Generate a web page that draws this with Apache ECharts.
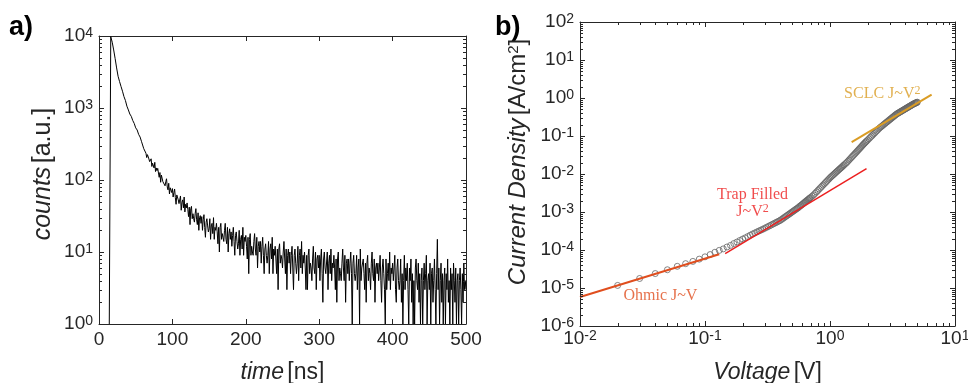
<!DOCTYPE html>
<html><head><meta charset="utf-8">
<script src="https://cdn.jsdelivr.net/npm/echarts@6/dist/echarts.min.js"></script>
<style>html,body{margin:0;padding:0;background:#fff}#c{width:968px;height:383px}</style>
</head><body><div id="c"></div>
<script>
// ---------- Panel a) : fluorescence decay ----------
const decayTime = [
14,16,18,20,22,24,26,28,30,32,
34,36,38,40,42,44,46,48,50,52,
54,56,58,
60,61,62,63,64,65,66,67,68,69,
70,71,72,73,74,75,76,77,78,79,
80,81,82,83,84,85,86,87,88,89,
90,91,92,93,94,95,96,97,98,99,
100,101,102,103,104,105,106,107,108,109,
110,111,112,113,114,115,116,117,118,119,
120,121,122,123,124,125,126,127,128,129,
130,131,132,133,134,135,136,137,138,139,
140,141,142,143,144,145,146,147,148,149,
150,151,152,153,154,155,156,157,158,159,
160,161,162,163,164,165,166,167,168,169,
170,171,172,173,174,175,176,177,178,179,
180,181,182,183,184,185,186,187,188,189,
190,191,192,193,194,195,196,197,198,199,
200,201,202,203,204,205,206,207,208,209,
210,211,212,213,214,215,216,217,218,219,
220,221,222,223,224,225,226,227,228,229,
230,231,232,233,234,235,236,237,238,239,
240,241,242,243,244,245,246,247,248,249,
250,251,252,253,254,255,256,257,258,259,
260,261,262,263,264,265,266,267,268,269,
270,271,272,273,274,275,276,277,278,279,
280,281,282,283,284,285,286,287,288,289,
290,291,292,293,294,295,296,297,298,299,
300,301,302,303,304,305,306,307,308,309,
310,311,312,313,314,315,316,317,318,319,
320,321,322,323,324,325,326,327,328,329,
330,331,332,333,334,335,336,337,338,339,
340,341,342,343,344,345,346,347,348,349,
350,351,352,353,354,355,356,357,358,359,
360,361,362,363,364,365,366,367,368,369,
370,371,372,373,374,375,376,377,378,379,
380,381,382,383,384,385,386,387,388,389,
390,391,392,393,394,395,396,397,398,399,
400,401,402,403,404,405,406,407,408,409,
410,411,412,413,414,415,416,417,418,419,
420,421,422,423,424,425,426,427,428,429,
430,431,432,433,434,435,436,437,438,439,
440,441,442,443,444,445,446,447,448,449,
450,451,452,453,454,455,456,457,458,459,
460,461,462,463,464,465,466,467,468,469,
470,471,472,473,474,475,476,477,478,479,
480,481,482,483,484,485,486,487,488,489,
490,491,492,493,494,495,496,497,498,499,
500];
const decayCounts = [
1,9800,8200,6400,4850,3600,2760,2330,1990,1710,
1440,1270,1060,940,825,765,670,610,530,495,
430,395,340,
322,272,280,284,235,205,225,223,196,180,
181,197,154,171,173,147,176,131,147,135,
145,125,109,127,93,117,121,95,101,91,
83,95,104,80,73,90,64,78,80,67,
76,58,67,75,57,46,62,65,53,47,
49,60,38,49,53,41,58,36,46,41,
48,39,31,42,24,40,43,29,34,29,
26,34,40,28,24,35,20,30,32,25,
31,20,28,33,22,16,26,29,23,19,
21,29,15,23,25,18,30,15,22,20,
25,19,13,22,10,22,25,15,18,16,
14,20,25,15,13,22,10,18,21,15,
19,12,17,22,14,9,17,19,14,11,
13,20,9,15,17,11,22,9,16,14,
17,12,8,16,5,15,18,9,12,10,
9,14,18,11,9,16,6,12,14,10,
14,7,12,16,9,5,11,13,9,7,
9,14,5,11,13,8,16,5,11,9,
12,8,5,11,3,11,13,7,9,8,
6,10,14,8,5,11,3,9,11,7,
10,5,9,12,6,3,9,11,7,5,
7,12,4,9,11,6,14,5,9,7,
10,6,3,9,3,9,11,5,7,6,
4,8,12,6,5,10,3,8,9,6,
9,4,8,11,5,2,8,10,6,5,
5,10,3,7,9,5,11,4,7,6,
9,6,3,8,2,8,10,4,6,5,
4,7,11,6,4,9,2,7,8,5,
8,4,7,10,5,1,7,9,5,4,
5,9,3,6,8,1,11,4,6,6,
8,5,3,7,2,7,9,4,6,5,
3,7,10,5,4,8,2,6,7,5,
7,4,6,9,4,2,6,8,5,3,
1,8,3,5,7,4,10,3,6,5,
7,4,6,9,3,2,6,8,4,3,
4,8,2,5,1,4,9,3,6,4,
7,3,1,6,4,8,2,5,1,4,
1,6,8,4,3,7,2,5,1,4,
6,1,4,7,3,5,9,1,4,5,
3,7,1,5,6,2,4,8,3,1,
5,15,3,6,1,4,7,2,5,1,
4,6,1,5,3,8,2,4,1,6,
3,5,1,7,4,2,6,1,4,5,
1,4,6,3,1,5,2,7,3,4,
3];
const timeTicks = [0,100,200,300,400,500];
const countsExponents = [0,1,2,3,4];

// ---------- Panel b) : J-V ----------
const voltage = [
0.02,0.03,0.04,0.05,0.06,0.07,0.08,0.09,0.10,0.11,
0.12,0.13,0.14,0.15,0.16,0.17,0.18,0.19,0.20,0.21,
0.22,0.23,0.24,0.25,0.26,0.27,0.28,0.29,0.30,
0.31,0.32,0.33,0.34,0.35,0.36,0.37,0.38,0.39,0.40,
0.41,0.42,0.43,0.44,0.45,0.46,0.47,0.48,0.49,0.50,
0.51,0.52,0.53,0.54,0.55,0.56,0.57,0.58,0.59,0.60,
0.61,0.62,0.63,0.64,0.65,0.66,0.67,0.68,0.69,0.70,
0.72,0.74,0.76,0.78,0.80,0.82,0.84,0.86,0.88,0.90,
0.92,0.94,0.96,0.98,1.00,1.02,1.04,1.06,1.08,1.10,
1.12,1.14,1.16,1.18,1.20,1.22,1.24,1.26,1.28,1.30,
1.33,1.36,1.39,1.42,1.45,1.48,1.51,1.54,1.57,1.60,
1.63,1.66,1.69,1.72,1.75,1.78,1.81,1.84,1.87,1.90,
1.93,1.96,2.00,2.05,2.10,2.15,2.20,2.25,2.30,2.35,
2.40,2.45,2.50,2.55,2.60,2.65,2.70,2.75,2.80,2.85,
2.90,2.95,3.00,3.05,3.10,3.15,3.20,3.25,3.30,3.35,
3.40,3.45,3.50,3.55,3.60,3.65,3.70,3.75,3.80,3.85,
3.90,3.95,4.00,4.05,4.10,4.15,4.20,4.25,4.30,4.35,
4.40,4.45,4.50,4.55,4.60,4.65,4.70,4.75,4.80,4.85,
4.90,4.95,5.00];
const currentDensity = [
1.17e-5,1.78e-5,2.40e-5,3.02e-5,3.72e-5,4.37e-5,5.01e-5,5.75e-5,6.61e-5,7.59e-5,
8.71e-5,9.77e-5,1.07e-4,1.20e-4,1.32e-4,1.48e-4,1.62e-4,1.78e-4,1.94e-4,2.09e-4,
2.26e-4,2.45e-4,2.63e-4,2.80e-4,2.98e-4,3.16e-4,3.34e-4,3.52e-4,3.72e-4,
3.93e-4,4.14e-4,4.36e-4,4.58e-4,4.82e-4,5.05e-4,5.28e-4,5.53e-4,5.77e-4,6.03e-4,
6.38e-4,6.75e-4,7.13e-4,7.52e-4,7.92e-4,8.34e-4,8.75e-4,9.19e-4,9.64e-4,1.01e-3,
1.06e-3,1.11e-3,1.16e-3,1.21e-3,1.26e-3,1.32e-3,1.39e-3,1.45e-3,1.52e-3,1.59e-3,
1.66e-3,1.74e-3,1.82e-3,1.90e-3,1.98e-3,2.06e-3,2.14e-3,2.23e-3,2.32e-3,2.42e-3,
2.61e-3,2.82e-3,3.09e-3,3.38e-3,3.68e-3,4.01e-3,4.36e-3,4.72e-3,5.11e-3,5.51e-3,
5.95e-3,6.40e-3,6.89e-3,7.38e-3,7.94e-3,8.43e-3,8.93e-3,9.46e-3,1.00e-2,1.06e-2,
1.12e-2,1.18e-2,1.24e-2,1.31e-2,1.37e-2,1.44e-2,1.51e-2,1.59e-2,1.67e-2,1.75e-2,
1.87e-2,2.00e-2,2.16e-2,2.33e-2,2.51e-2,2.70e-2,2.90e-2,3.11e-2,3.33e-2,3.56e-2,
3.80e-2,4.06e-2,4.34e-2,4.62e-2,4.92e-2,5.24e-2,5.57e-2,5.91e-2,6.24e-2,6.59e-2,
6.94e-2,7.31e-2,7.81e-2,8.48e-2,9.19e-2,9.93e-2,0.107,0.116,0.124,0.134,
0.143,0.154,0.164,0.173,0.182,0.192,0.202,0.212,0.223,0.233,
0.245,0.256,0.268,0.280,0.293,0.306,0.319,0.332,0.346,0.361,
0.375,0.387,0.398,0.409,0.420,0.432,0.444,0.455,0.467,0.480,
0.492,0.504,0.517,0.530,0.543,0.555,0.569,0.582,0.596,0.609,
0.623,0.637,0.651,0.665,0.680,0.694,0.706,0.718,0.729,0.741,
0.753,0.765,0.777];
const ohmicV = [0.01, 0.13];
const ohmicJ = [5.8e-6, 7.7e-5];
const trapV = [0.145, 1.96];
const trapJ = [8.0e-5, 1.38e-2];
const sclcV = [1.49, 6.5];
const sclcJ = [0.069, 1.23];
const voltageExponents = [-2,-1,0,1];
const densityExponents = [-6,-5,-4,-3,-2,-1,0,1,2];
const annotationTexts = ['Ohmic J~V', 'Trap Filled\nJ~V{s|2}', 'SCLC J~V{s|2}'];

// ---------- styling / layout ----------
const AX = '#262626';
const SANS = "'Liberation Sans', Arial, Helvetica, sans-serif";
const SERIF = "'Liberation Serif', 'Times New Roman', serif";
const annotationAnchors = [[0.044, 6.4e-6], [0.24, 1.72e-3], [2.62, 1.30]];
const annotationColors = ['#E04E1E', '#EC1F1F', '#DA9C24'];

const pairs = (a, b) => a.map((v, i) => [v, b[i]]);
const expOf = v => Math.round(Math.log10(v));
const supRich = {
  b: {fontSize: 19, lineHeight: 19, verticalAlign: 'bottom', fontFamily: SANS, color: AX},
  s: {fontSize: 14, lineHeight: 14, verticalAlign: 'top', padding: [0, 0, 8, 0], fontFamily: SANS, color: AX}
};
const powLabel = (list) => (v) => {
  const e = expOf(v);
  return list.indexOf(e) >= 0 ? '{b|10}{s|' + e + '}' : '';
};
const axLine = {show: true, onZero: false, lineStyle: {color: AX, width: 1}};
const mkNameRich = (fs) => ({
  i: {fontStyle: 'italic', fontSize: fs, fontFamily: SANS, fill: AX, color: AX},
  n: {fontSize: fs, fontFamily: SANS, fill: AX, color: AX},
  s: {fontSize: Math.round(fs * 0.62), fontFamily: SANS, fill: AX, color: AX, verticalAlign: 'top', lineHeight: Math.round(fs * 0.62), padding: [0, 0, 12, 0]}
});

function mkAxis(o) {
  return Object.assign({
    axisLine: axLine,
    axisTick: {show: true, inside: true, length: 5, lineStyle: {color: AX}},
    splitLine: {show: false},
    minorTick: {show: false},
    axisLabel: {show: false}
  }, o);
}

function decadeMinors(exps) {
  const out = [];
  for (let k = 0; k < exps.length - 1; k++)
    for (let m = 2; m <= 9; m++) out.push(m * Math.pow(10, exps[k]));
  return out;
}

function minorTicks(xi, yi, dir, vals, xr, yr, len) {
  return {
    type: 'custom', xAxisIndex: xi, yAxisIndex: yi, silent: true, clip: false, z: 5,
    data: vals.map(v => dir === 'y' ? [xr[0], v] : [v, yr[0]]),
    renderItem: (params, api) => {
      const st = {stroke: AX, lineWidth: 1};
      if (dir === 'y') {
        const v = api.value(1);
        const a = api.coord([xr[0], v]), b = api.coord([xr[1], v]);
        const y = Math.round(a[1]) + 0.5;
        return {type: 'group', children: [
          {type: 'line', shape: {x1: a[0], y1: y, x2: a[0] + len, y2: y}, style: st},
          {type: 'line', shape: {x1: b[0], y1: y, x2: b[0] - len, y2: y}, style: st}]};
      } else {
        const v = api.value(0);
        const a = api.coord([v, yr[0]]), b = api.coord([v, yr[1]]);
        const x = Math.round(a[0]) + 0.5;
        return {type: 'group', children: [
          {type: 'line', shape: {x1: x, y1: a[1], x2: x, y2: a[1] - len}, style: st},
          {type: 'line', shape: {x1: x, y1: b[1], x2: x, y2: b[1] + len}, style: st}]};
      }
    }
  };
}

const chart = echarts.init(document.getElementById('c'), null, {renderer: 'canvas'});
const option = {
  animation: false,
  backgroundColor: '#fff',
  grid: [
    {left: 99, top: 36, width: 367, height: 288, containLabel: false, outerBoundsMode: 'none'},
    {left: 580, top: 22, width: 375, height: 304, containLabel: false, outerBoundsMode: 'none'}
  ],
  xAxis: [
    mkAxis({gridIndex: 0, type: 'value', min: timeTicks[0], max: timeTicks[timeTicks.length - 1], interval: 100, position: 'bottom',
      axisLabel: {show: true, margin: 6, fontSize: 19, color: AX, fontFamily: SANS},
      name: '{i|time} {n|[ns]}', nameLocation: 'middle', nameGap: 37, nameTextStyle: {rich: mkNameRich(23)}}),
    mkAxis({gridIndex: 0, type: 'value', min: 0, max: 500, interval: 100, position: 'top'}),
    mkAxis({gridIndex: 1, type: 'log', logBase: 10, min: 0.01, max: 10, splitNumber: 3, position: 'bottom',
      axisLabel: {show: true, margin: 3, formatter: powLabel(voltageExponents), rich: supRich},
      name: '{i|Voltage} {n|[V]}', nameLocation: 'middle', nameGap: 35, nameTextStyle: {rich: mkNameRich(23)}}),
    mkAxis({gridIndex: 1, type: 'log', logBase: 10, min: 0.01, max: 10, splitNumber: 3, position: 'top'})
  ],
  yAxis: [
    mkAxis({gridIndex: 0, type: 'log', logBase: 10, min: 1, max: 10000, splitNumber: 4, position: 'left',
      axisLabel: {show: true, margin: 6, formatter: powLabel(countsExponents), rich: supRich}}),
    mkAxis({gridIndex: 0, type: 'log', logBase: 10, min: 1, max: 10000, splitNumber: 4, position: 'right'}),
    mkAxis({gridIndex: 1, type: 'log', logBase: 10, min: 1e-6, max: 100, splitNumber: 8, position: 'left',
      axisLabel: {show: true, margin: 6, formatter: powLabel(densityExponents), rich: supRich}}),
    mkAxis({gridIndex: 1, type: 'log', logBase: 10, min: 1e-6, max: 100, splitNumber: 8, position: 'right'})
  ],
  series: [
    {type: 'line', xAxisIndex: 0, yAxisIndex: 0, data: pairs(decayTime, decayCounts), symbol: 'none',
      lineStyle: {color: '#000', width: 1}, silent: true, z: 3},
    minorTicks(0, 0, 'y', decadeMinors(countsExponents), [0, 500], [1, 10000], 3),
    {type: 'scatter', xAxisIndex: 2, yAxisIndex: 2, data: pairs(voltage, currentDensity), symbol: 'circle', symbolSize: 6,
      itemStyle: {color: 'rgba(0,0,0,0)', borderColor: '#666', borderWidth: 1}, silent: true, z: 2},
    {type: 'line', xAxisIndex: 2, yAxisIndex: 2, data: pairs(ohmicV, ohmicJ), symbol: 'none',
      lineStyle: {color: annotationColors[0], width: 2}, silent: true, z: 4},
    {type: 'line', xAxisIndex: 2, yAxisIndex: 2, data: pairs(trapV, trapJ), symbol: 'none',
      lineStyle: {color: annotationColors[1], width: 1.5}, silent: true, z: 4},
    {type: 'line', xAxisIndex: 2, yAxisIndex: 2, data: pairs(sclcV, sclcJ), symbol: 'none',
      lineStyle: {color: annotationColors[2], width: 2}, silent: true, z: 4},
    minorTicks(2, 2, 'y', decadeMinors(densityExponents), [0.01, 10], [1e-6, 100], 3),
    minorTicks(2, 2, 'x', decadeMinors(voltageExponents), [0.01, 10], [1e-6, 100], 3),
    {type: 'scatter', xAxisIndex: 2, yAxisIndex: 2, symbolSize: 0, silent: true, z: 6,
      data: annotationAnchors.map((p, i) => ({
        value: p,
        label: {show: true, position: 'inside', formatter: annotationTexts[i], color: annotationColors[i],
          fontFamily: SERIF, fontSize: 16, lineHeight: 17, align: 'center',
          rich: {s: {fontSize: 12, fontFamily: SERIF, color: annotationColors[i], verticalAlign: 'top', lineHeight: 12, padding: [0, 0, 6, 0]}}}
      }))}
  ],
  graphic: [
    {type: 'text', left: 9, top: 14, style: {text: 'a)', font: "bold 27px 'Liberation Sans', Arial", fill: '#000'}},
    {type: 'text', left: 495, top: 14, style: {text: 'b)', font: "bold 27px 'Liberation Sans', Arial", fill: '#000'}},
    {type: 'text', x: 43, y: 174, rotation: Math.PI / 2,
      style: {text: '{i|counts} {n|[a.u.]}', rich: mkNameRich(25), align: 'center', verticalAlign: 'middle', fill: AX}},
    {type: 'text', x: 518, y: 162, rotation: Math.PI / 2,
      style: {text: '{i|Current Density} {n|[A/cm}{s|2}{n|]}', rich: mkNameRich(24), align: 'center', verticalAlign: 'middle', fill: AX}}
  ]
};
chart.setOption(option);
</script>
</body></html>
